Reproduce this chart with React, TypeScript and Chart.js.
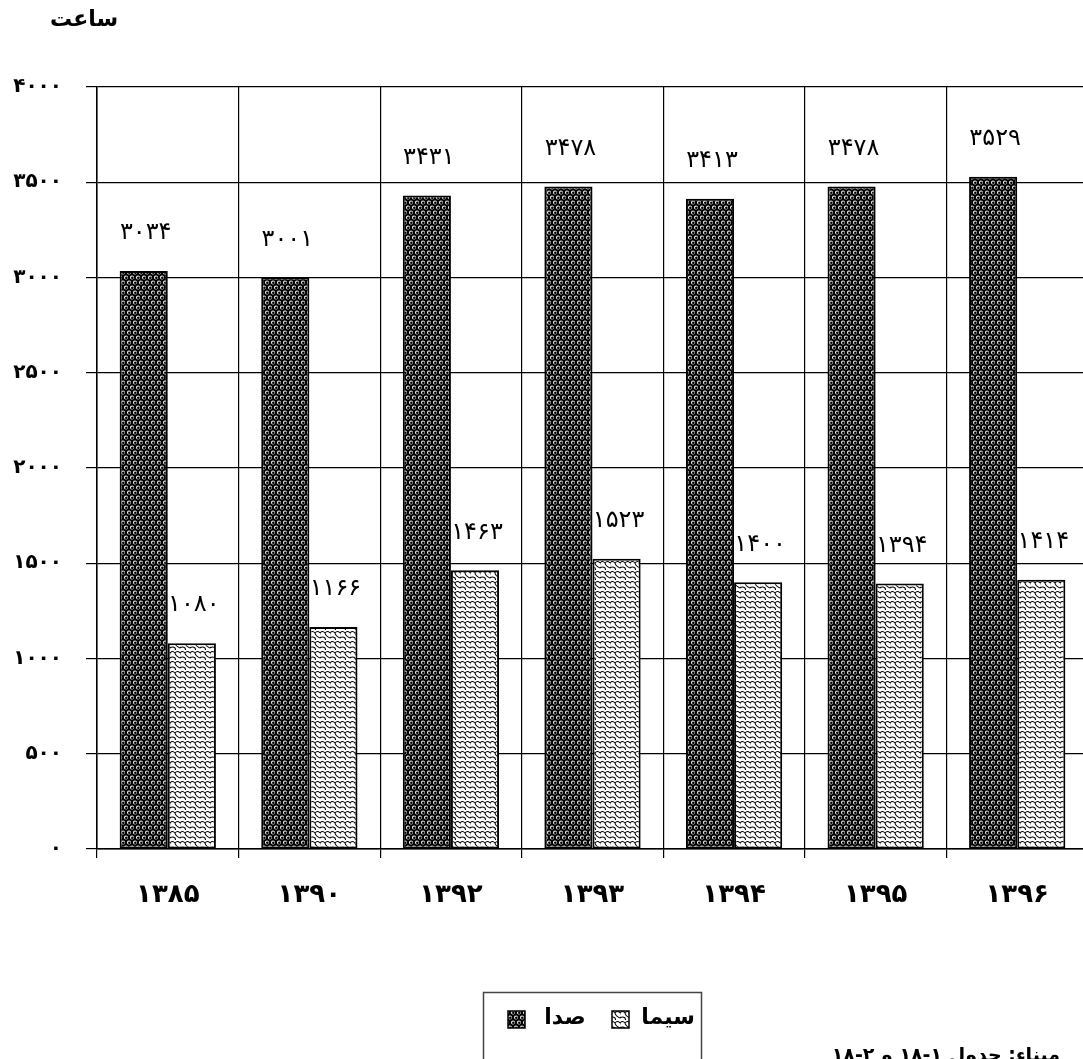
import React, { useEffect, useRef } from "react";
import { Chart, registerables } from "chart.js";

Chart.register(...registerables);

const categories = ["۱۳۸۵", "۱۳۹۰", "۱۳۹۲", "۱۳۹۳", "۱۳۹۴", "۱۳۹۵", "۱۳۹۶"];
const sadaValues = [3034, 3001, 3431, 3478, 3413, 3478, 3529];
const simaValues = [1080, 1166, 1463, 1523, 1400, 1394, 1414];
const yTickLabels = ["۰", "۵۰۰", "۱۰۰۰", "۱۵۰۰", "۲۰۰۰", "۲۵۰۰", "۳۰۰۰", "۳۵۰۰", "۴۰۰۰"];
const seriesNames = ["صدا", "سیما"];
const yAxisTitle = "ساعت";
const sourceNote = "مبناء: جدول ۱-۱۸ و ۲-۱۸";

const FONT = "'DejaVu Sans', sans-serif";
const persianDigits = ["۰", "۱", "۲", "۳", "۴", "۵", "۶", "۷", "۸", "۹"];
const toPersian = (n: number) => String(n).replace(/\d/g, (d) => persianDigits[Number(d)]);

function makeSadaPattern(ctx: CanvasRenderingContext2D) {
  const c = document.createElement("canvas");
  c.width = 6;
  c.height = 10;
  const g = c.getContext("2d")!;
  g.fillStyle = "#000";
  g.fillRect(0, 0, 6, 10);
  const pts = [
    [3, 2.5],
    [0, 7.5],
    [6, 7.5],
  ];
  for (const [x, y] of pts) {
    g.fillStyle = "#fff";
    g.beginPath();
    g.arc(x, y, 2.0, 0, Math.PI * 2);
    g.fill();
    g.fillStyle = "#000";
    g.beginPath();
    g.arc(x + 0.3, y + 0.3, 1.3, 0, Math.PI * 2);
    g.fill();
  }
  return ctx.createPattern(c, "repeat")!;
}

function makeSimaPattern(ctx: CanvasRenderingContext2D) {
  const c = document.createElement("canvas");
  c.width = 10;
  c.height = 10;
  const g = c.getContext("2d")!;
  g.fillStyle = "#fff";
  g.fillRect(0, 0, 10, 10);
  g.strokeStyle = "#000";
  g.lineWidth = 1.1;
  g.beginPath();
  g.moveTo(0, 3);
  g.quadraticCurveTo(2.5, 0, 5, 3);
  g.quadraticCurveTo(5.5, 6, 10, 8);
  g.moveTo(5, 3);
  g.quadraticCurveTo(7.5, 0, 10, 3);
  g.moveTo(0, 8);
  g.quadraticCurveTo(2.5, 6, 5, 8);
  g.quadraticCurveTo(6, 10, 5, 13);
  g.moveTo(0, 3);
  g.quadraticCurveTo(-1, 6, 0, 8);
  g.stroke();
  return ctx.createPattern(c, "repeat")!;
}

export default function App() {
  const canvasRef = useRef<HTMLCanvasElement | null>(null);

  useEffect(() => {
    const canvas = canvasRef.current!;
    const ctx = canvas.getContext("2d")!;
    const sadaPattern = makeSadaPattern(ctx);
    const simaPattern = makeSimaPattern(ctx);
    const patterns = [sadaPattern, simaPattern];

    const labelPlugin = {
      id: "barLabels",
      afterDatasetsDraw(chart: any) {
        const c = chart.ctx;
        c.save();
        c.font = `24px ${FONT}`;
        c.fillStyle = "#000";
        c.textAlign = "center";
        c.textBaseline = "middle";
        chart.data.datasets.forEach((ds: any, di: number) => {
          const meta = chart.getDatasetMeta(di);
          meta.data.forEach((bar: any, i: number) => {
            c.fillText(toPersian(ds.data[i]), bar.x + 2, bar.y - 38);
          });
        });
        c.restore();
      },
    };

    const decorPlugin = {
      id: "decor",
      afterDraw(chart: any) {
        const c = chart.ctx;
        c.save();
        // axis title
        c.font = `bold 22px ${FONT}`;
        c.fillStyle = "#000";
        c.textAlign = "center";
        c.textBaseline = "middle";
        c.fillText(yAxisTitle, 84, 20);
        // legend box
        c.strokeStyle = "#444";
        c.lineWidth = 1.5;
        c.strokeRect(483.5, 992.5, 218, 120);
        const boxes = [508, 612];
        const textX = [565, 668];
        seriesNames.forEach((name, i) => {
          c.fillStyle = patterns[i];
          c.fillRect(boxes[i], 1011, 17, 17);
          c.strokeStyle = "#000";
          c.lineWidth = 1.5;
          c.strokeRect(boxes[i], 1011, 17, 17);
          c.fillStyle = "#000";
          c.font = `bold 22px ${FONT}`;
          c.fillText(name, textX[i], 1018);
        });
        // source note
        c.font = `bold 19px ${FONT}`;
        c.direction = "rtl";
        c.textAlign = "right";
        c.fillText(sourceNote, 1060, 1056);
        c.restore();
      },
    };

    const chart = new Chart(canvas, {
      type: "bar",
      data: {
        labels: categories,
        datasets: [
          {
            label: seriesNames[0],
            data: sadaValues,
            backgroundColor: sadaPattern as any,
            borderColor: "#000",
            borderWidth: 2,
            borderSkipped: false,
          },
          {
            label: seriesNames[1],
            data: simaValues,
            backgroundColor: simaPattern as any,
            borderColor: "#000",
            borderWidth: 2,
            borderSkipped: false,
          },
        ],
      },
      options: {
        responsive: false,
        animation: false,
        devicePixelRatio: 1,
        layout: { padding: { top: 87, left: 0, right: 12, bottom: 0 } },
        datasets: { bar: { categoryPercentage: 0.68, barPercentage: 1 } },
        plugins: {
          legend: { display: false },
          title: { display: false },
          tooltip: { enabled: false },
        },
        scales: {
          x: {
            grid: { color: "#000", lineWidth: 1.2, tickLength: 9, offset: true },
            border: { color: "#000", width: 1.5 },
            ticks: {
              color: "#000",
              font: { family: FONT, size: 26, weight: "bold" },
              padding: 22,
              maxRotation: 0,
            },
            afterFit: (s: any) => {
              s.height = 210;
            },
          },
          y: {
            min: 0,
            max: 4000,
            grid: { color: "#000", lineWidth: 1.2, tickLength: 11 },
            border: { color: "#000", width: 1.5 },
            ticks: {
              stepSize: 500,
              color: "#000",
              font: { family: FONT, size: 20, weight: "bold" },
              padding: 24,
              callback: (_v: any, i: number) => yTickLabels[i],
            },
            afterFit: (s: any) => {
              s.width = 97;
            },
          },
        },
      },
      plugins: [labelPlugin, decorPlugin],
    });
    return () => chart.destroy();
  }, []);

  return (
    <div
      style={{
        position: "absolute",
        left: 0,
        top: 0,
        width: 1083,
        height: 1059,
        overflow: "hidden",
        background: "#fff",
      }}
    >
      <canvas ref={canvasRef} width={1100} height={1059} style={{ display: "block" }} />
    </div>
  );
}
